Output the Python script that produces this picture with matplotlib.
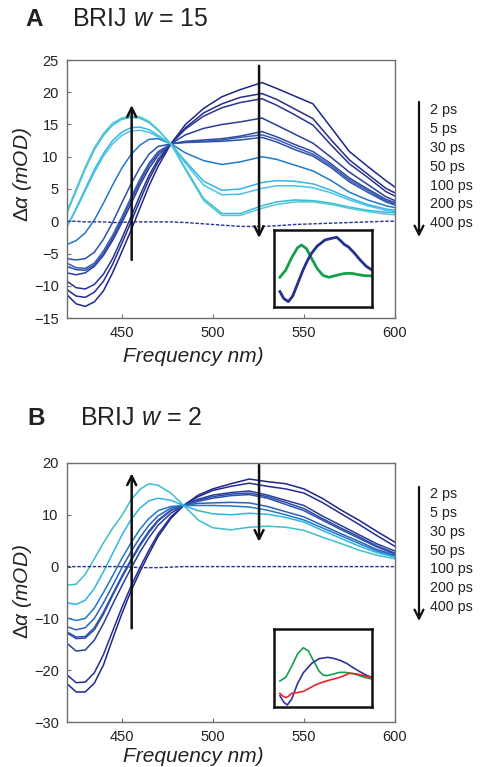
import matplotlib.pyplot as plt

plt.rcParams['font.family'] = ['Liberation Sans', 'DejaVu Sans']
plt.rcParams['mathtext.fontset'] = 'custom'
plt.rcParams['mathtext.rm'] = 'Liberation Sans'
plt.rcParams['mathtext.it'] = 'Liberation Sans:italic'

W, H = 481, 767

# ---- panel A : BRIJ w = 15 ----
WAVE_A = [420, 425, 430, 435, 440, 445, 450, 455, 460, 465, 470, 477, 485,
          495, 505, 515, 527, 535, 545, 555, 565, 575, 585, 595, 600]
SPECTRA_A = [
    [-11.4, -12.8, -13.2, -12.5, -10.8, -8.0, -4.8, -1.5, 2.0, 5.5, 8.5, 12.0, 15.0,
     17.5, 19.3, 20.4, 21.5, 20.6, 19.4, 18.2, 14.5, 10.8, 8.5, 6.3, 5.3],
    [-10.6, -11.6, -11.8, -11.0, -9.3, -6.7, -3.5, -0.2, 3.2, 6.5, 9.2, 12.0, 14.5,
     16.8, 18.2, 19.2, 19.8, 18.9, 17.4, 15.9, 12.6, 9.5, 7.3, 5.1, 4.4],
    [-9.3, -10.3, -10.5, -9.8, -8.2, -5.8, -2.7, 0.6, 4.0, 7.1, 9.6, 12.0, 14.3,
     16.3, 17.6, 18.4, 19.0, 18.0, 16.5, 14.9, 11.8, 8.9, 6.8, 4.6, 3.9],
    [-8.0, -8.3, -8.0, -7.0, -5.3, -3.0, -0.3, 2.6, 5.6, 8.2, 10.2, 12.0, 13.4,
     14.4, 15.0, 15.4, 16.0, 14.9, 13.5, 12.1, 9.9, 7.6, 5.7, 3.8, 3.2],
    [-7.0, -7.5, -7.6, -6.8, -5.0, -2.6, 0.2, 3.2, 6.1, 8.7, 10.6, 12.0, 12.4,
     12.6, 12.8, 13.2, 13.9, 13.1, 11.9, 10.8, 8.9, 6.7, 5.0, 3.4, 2.9],
    [-6.5, -7.2, -7.3, -6.5, -4.6, -2.2, 0.6, 3.6, 6.5, 9.0, 10.8, 12.0, 12.3,
     12.4, 12.6, 13.0, 13.4, 12.7, 11.5, 10.4, 8.6, 6.4, 4.8, 3.2, 2.7],
    [-5.8, -6.0, -5.8, -4.8, -2.8, -0.2, 2.8, 5.7, 8.3, 10.4, 11.6, 12.0, 12.2,
     12.3, 12.4, 12.6, 13.0, 12.3, 11.1, 10.1, 8.3, 6.1, 4.5, 3.0, 2.5],
    [-3.6, -3.0, -1.8, 0.2, 2.8, 5.6, 8.2, 10.3, 11.8, 12.7, 12.8, 12.0, 10.6,
     9.4, 8.8, 9.2, 10.0, 9.6, 8.7, 7.8, 6.3, 4.5, 3.3, 2.4, 2.1],
    [-0.8, 2.0, 5.0, 8.0, 10.5, 12.5, 13.8, 14.5, 14.6, 14.2, 13.3, 12.0, 9.3,
     6.2, 4.8, 5.0, 6.0, 6.3, 6.2, 5.8, 4.8, 3.6, 2.6, 1.9, 1.7],
    [-0.9, 1.8, 4.7, 7.6, 10.1, 12.0, 13.3, 14.0, 14.1, 13.8, 13.1, 12.0, 9.0,
     5.6, 4.1, 4.2, 5.1, 5.5, 5.5, 5.2, 4.4, 3.3, 2.4, 1.7, 1.5],
    [1.3, 4.7, 8.1, 11.1, 13.3, 14.9, 15.8, 16.1, 16.0, 15.3, 14.1, 12.0, 8.2,
     3.5, 1.2, 1.2, 2.4, 3.0, 3.3, 3.2, 2.8, 2.2, 1.7, 1.4, 1.3],
    [1.6, 5.0, 8.4, 11.4, 13.6, 15.2, 16.0, 16.3, 16.2, 15.5, 14.2, 12.0, 8.0,
     3.2, 0.9, 0.9, 2.0, 2.6, 3.0, 3.0, 2.6, 2.0, 1.5, 1.1, 1.0],
]
BASE_A = [0.0, 0.0, -0.1, -0.1, -0.1, -0.2, -0.2, -0.1, -0.1, -0.1, -0.1, -0.1, -0.2,
          -0.4, -0.6, -0.8, -0.8, -0.7, -0.5, -0.4, -0.3, -0.2, -0.1, 0.0, 0.0]

# ---- panel B : BRIJ w = 2 ----
WAVE_B = [420, 425, 430, 435, 440, 445, 450, 455, 460, 465, 470, 477, 484,
          492, 500, 510, 520, 530, 540, 550, 560, 570, 580, 590, 600]
SPECTRA_B = [
    [-22.6, -24.2, -24.2, -22.5, -19.0, -14.0, -9.2, -4.8, -1.0, 2.5, 5.8, 9.3, 11.8,
     13.8, 15.0, 16.0, 16.9, 16.4, 16.0, 15.0, 13.2, 11.0, 9.0, 6.8, 4.7],
    [-20.9, -22.4, -22.3, -20.5, -17.0, -12.5, -8.0, -3.9, -0.2, 3.2, 6.3, 9.6, 11.8,
     13.5, 14.7, 15.5, 16.1, 15.5, 15.0, 14.2, 12.4, 10.3, 8.2, 6.0, 3.9],
    [-14.8, -16.3, -16.1, -14.2, -11.0, -7.3, -3.8, -0.4, 2.8, 5.6, 8.0, 10.3, 11.8,
     13.0, 13.8, 14.3, 14.6, 13.8, 12.8, 11.8, 9.8, 8.0, 6.2, 4.4, 3.0],
    [-12.8, -13.9, -13.8, -12.2, -9.2, -5.6, -2.2, 1.0, 4.0, 6.6, 8.8, 10.8, 11.8,
     12.8, 13.5, 14.0, 14.2, 13.5, 12.4, 11.2, 9.3, 7.5, 5.8, 4.0, 2.6],
    [-12.6, -13.6, -13.5, -11.8, -8.8, -5.3, -1.9, 1.3, 4.3, 6.9, 9.0, 10.9, 11.8,
     12.6, 13.2, 13.7, 13.9, 13.2, 12.0, 10.8, 9.0, 7.2, 5.5, 3.8, 2.4],
    [-11.6, -12.2, -11.8, -10.0, -7.0, -3.7, -0.3, 2.8, 5.6, 8.0, 9.8, 11.3, 11.8,
     12.2, 12.3, 12.4, 12.3, 11.6, 10.6, 9.6, 8.0, 6.4, 4.9, 3.3, 2.2],
    [-9.9, -10.4, -10.0, -8.0, -5.0, -1.8, 1.5, 4.5, 7.2, 9.3, 10.8, 11.6, 11.8,
     11.8, 11.8, 11.7, 11.5, 10.9, 10.0, 9.0, 7.5, 6.0, 4.5, 3.0, 2.0],
    [-7.0, -7.3, -6.5, -4.2, -1.0, 2.5, 6.0, 9.0, 11.3, 12.7, 13.2, 12.8, 11.8,
     10.8, 10.2, 10.0, 10.3, 10.1, 9.5, 8.6, 7.0, 5.5, 4.0, 2.7, 1.8],
    [-3.6, -3.4, -1.5, 1.5, 4.6, 7.4, 9.8, 12.8, 14.9, 16.0, 15.7, 14.2, 11.8,
     9.0, 7.5, 7.1, 7.6, 7.8, 7.6, 7.0, 5.7, 4.5, 3.2, 2.2, 1.5],
]
BASE_B = [0.0, 0.0, 0.0, 0.0, 0.0, 0.0, 0.0, -0.1, -0.2, -0.2, -0.2, -0.1, 0.0,
          0.0, 0.0, 0.0, 0.0, 0.0, 0.0, 0.0, 0.0, 0.0, 0.0, 0.0, 0.0]

DELAYS = ['2 ps', '5 ps', '30 ps', '50 ps', '100 ps', '200 ps', '400 ps']

# ---- insets (arbitrary units) ----
INSET_A_GREEN_X = [6, 12, 18, 24, 28, 33, 38, 44, 50, 56, 62, 68, 74, 80, 86, 92, 100]
INSET_A_GREEN_Y = [38.6, 48, 64, 77, 80.5, 76, 64, 50, 41, 38.6, 40.5, 42.5, 43.8, 43.5, 42, 40.8, 40.3]
INSET_A_NAVY_X = [6, 10, 14.6, 19, 24, 29.6, 34, 38.5, 44, 52, 58, 64, 68, 72, 76, 82, 88, 94, 100]
INSET_A_NAVY_Y = [20, 11, 7, 14, 30, 48, 60, 70, 79, 87, 89, 90.5, 86, 81, 78, 70, 61, 53, 48]

INSET_B_GREEN_X = [6, 12, 18, 24, 30, 35, 40, 46, 50, 54, 60, 66, 72, 80, 88, 94, 100]
INSET_B_GREEN_Y = [33.3, 38, 52, 68, 76, 72, 60, 46, 41, 40.2, 42, 44.2, 44.5, 43, 40, 37.5, 36]
INSET_B_NAVY_X = [6, 10, 13.6, 18, 24, 30, 38.5, 46, 55, 62, 68, 74, 80, 88, 94, 100]
INSET_B_NAVY_Y = [14.5, 6, 2.6, 10, 30, 44, 56, 62, 63.7, 62, 59.5, 56, 51, 45, 41, 37.6]
INSET_B_RED_X = [6, 9, 12, 15, 18, 24, 30, 36, 42, 50, 58, 64, 70, 77, 84, 92, 100]
INSET_B_RED_Y = [17.5, 14, 12, 14, 17.5, 18.5, 20, 24, 28.2, 32, 35, 36.8, 39.5, 43.2, 42.5, 40, 38]

COLORS_A = ['#1f2687', '#252d8e', '#283490', '#2a3d99', '#2f4aa3', '#3a5db5',
            '#2c52ad', '#1f78c8', '#33b5e8', '#48c3ea', '#35bdd6', '#55c8cf']
COLORS_B = ['#1f2687', '#252d8e', '#2a3d99', '#2f4aa3', '#2d54ad', '#2a62b8',
            '#1f78c8', '#2cb5e6', '#3cbfcc']
NAVY = '#2a2f95'
SPINE = '#6e6e6e'
TEXT = '#222222'


def fx(px):
    return px / W


def fy(py):
    return 1 - py / H


def rect(x0, y0, x1, y1):
    return [fx(x0), fy(y1), fx(x1) - fx(x0), fy(y0) - fy(y1)]


def style_axes(ax, ylim, yticks):
    ax.set_xlim(420, 600)
    ax.set_ylim(*ylim)
    ax.set_xticks([450, 500, 550, 600])
    ax.set_yticks(yticks)
    ax.tick_params(direction='in', length=3, width=0.8, color=SPINE,
                   labelsize=10.5, labelcolor=TEXT, pad=6,
                   top=False, right=False)
    for s in ax.spines.values():
        s.set_color(SPINE)
        s.set_linewidth(1.0)


def draw_inset(box, curves, lw):
    ins = fig.add_axes(rect(*box))
    for xs, ys, c in curves:
        ins.plot(xs, ys, color=c, lw=lw)
    ins.set_xlim(0, 100)
    ins.set_ylim(0, 100)
    ins.set_xticks([])
    ins.set_yticks([])
    for s in ins.spines.values():
        s.set_color('#111111')
        s.set_linewidth(1.8)


def draw_delay_legend(y0, y1, text_ys):
    fig.add_artist(plt.Annotation('', xy=(fx(419), fy(y1)), xytext=(fx(419), fy(y0)),
                                  xycoords='figure fraction', textcoords='figure fraction',
                                  arrowprops=dict(arrowstyle='->', lw=1.6, color='#111111',
                                                  mutation_scale=16, shrinkA=0, shrinkB=0)))
    for lbl, ty in zip(DELAYS, text_ys):
        fig.text(fx(430), fy(ty), lbl, fontsize=10.3, color=TEXT, va='center', ha='left')


def axis_arrow(ax, x, y0, y1):
    ax.annotate('', xy=(x, y1), xytext=(x, y0),
                arrowprops=dict(arrowstyle='->', lw=1.8, color='#111111',
                                mutation_scale=16, shrinkA=0, shrinkB=0))


fig = plt.figure(figsize=(W / 100, H / 100), dpi=100)

# panel A
axA = fig.add_axes(rect(67, 60, 395, 318))
for ys, c in zip(SPECTRA_A, COLORS_A):
    axA.plot(WAVE_A, ys, color=c, lw=1.1)
axA.plot(WAVE_A, BASE_A, color=NAVY, lw=1.0, ls=(0, (2.5, 1.2)))
style_axes(axA, (-15, 25), range(-15, 26, 5))
axis_arrow(axA, 455.5, -6.0, 18.0)
axis_arrow(axA, 525.4, 24.1, -2.6)

# panel B
axB = fig.add_axes(rect(67, 463, 395, 722))
for ys, c in zip(SPECTRA_B, COLORS_B):
    axB.plot(WAVE_B, ys, color=c, lw=1.1)
axB.plot(WAVE_B, BASE_B, color=NAVY, lw=1.0, ls=(0, (2.5, 1.2)))
style_axes(axB, (-30, 20), range(-30, 21, 10))
axis_arrow(axB, 455.5, -11.9, 18.0)
axis_arrow(axB, 525.4, 19.6, 4.8)

draw_inset((274, 230, 372, 307), [
    (INSET_A_GREEN_X, INSET_A_GREEN_Y, '#13a04a'),
    (INSET_A_NAVY_X, INSET_A_NAVY_Y, '#26308f'),
], 2.0)
draw_inset((274, 629, 372, 707), [
    (INSET_B_GREEN_X, INSET_B_GREEN_Y, '#13a04a'),
    (INSET_B_NAVY_X, INSET_B_NAVY_Y, '#2e3598'),
    (INSET_B_RED_X, INSET_B_RED_Y, '#e8252a'),
], 1.2)

draw_delay_legend(102, 237, [110, 129.3, 148.3, 167.3, 185.7, 204.3, 223.3])
draw_delay_legend(487, 621, [494.3, 513.3, 532.3, 551, 569.3, 588.3, 607.3])

# titles and axis labels
fig.text(fx(25), fy(26), 'A', fontsize=17.5, fontweight='bold', color=TEXT, va='baseline')
fig.text(fx(72), fy(26), 'BRIJ $w$ = 15', fontsize=18, color=TEXT, va='baseline')
fig.text(fx(27), fy(425), 'B', fontsize=17.5, fontweight='bold', color=TEXT, va='baseline')
fig.text(fx(80), fy(425), 'BRIJ $w$ = 2', fontsize=18, color=TEXT, va='baseline')

fig.text(fx(193), fy(357), 'Frequency nm)', fontsize=15, style='italic', color=TEXT,
         ha='center', va='center')
fig.text(fx(193), fy(756), 'Frequency nm)', fontsize=15, style='italic', color=TEXT,
         ha='center', va='center')
fig.text(fx(22), fy(174), r'$\Delta\alpha$ (mOD)', fontsize=15, style='italic', color=TEXT,
         rotation=90, ha='center', va='center')
fig.text(fx(22), fy(591), r'$\Delta\alpha$ (mOD)', fontsize=15, style='italic', color=TEXT,
         rotation=90, ha='center', va='center')

fig.savefig('out.png', dpi=100)
